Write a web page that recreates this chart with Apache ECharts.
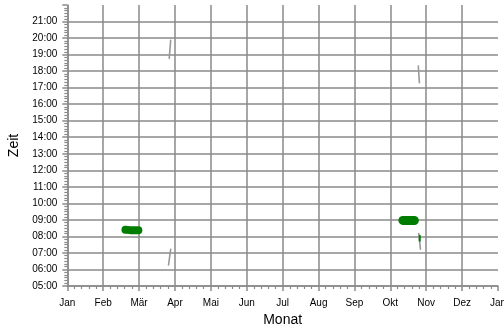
<!DOCTYPE html>
<html>
<head>
<meta charset="utf-8">
<script src="https://cdn.jsdelivr.net/npm/echarts@6/dist/echarts.min.js"></script>
<style>
  html, body { margin: 0; padding: 0; background: #fff; }
  #chart { width: 504px; height: 329px; }
</style>
</head>
<body>
<div id="chart"></div>
<script>
// Month tick labels (x = months since 1 January)
const monthLabels = ['Jan', 'Feb', 'Mär', 'Apr', 'Mai', 'Jun', 'Jul', 'Aug', 'Sep', 'Okt', 'Nov', 'Dez', 'Jan'];

// Observation windows, [month, hour of day]
const morningFeb = [[1.62, 8.40], [1.75, 8.38], [1.88, 8.37], [1.98, 8.37]];
const morningOct = [[9.35, 8.97], [9.50, 8.96], [9.67, 8.96]];
const morningOctLate = [[9.82, 8.04], [9.82, 7.74]];

// Clock changes (sunrise / sunset jump by one hour)
const sunsetMar = [[2.84, 18.77], [2.88, 19.86]];
const sunriseMar = [[2.82, 6.27], [2.88, 7.22]];
const sunsetOct = [[9.78, 18.30], [9.81, 17.30]];
const sunriseOct = [[9.79, 8.18], [9.84, 7.23]];

const gridGrey = '#8a8a8a';
const textFont = 'Liberation Sans, Arial, sans-serif';

function pad2(n) { return (n < 10 ? '0' : '') + n; }

function segment(data, color, width) {
  return {
    type: 'line',
    data: data,
    symbol: 'none',
    silent: true,
    lineStyle: { color: color, width: width, cap: 'round', join: 'round' }
  };
}

const chart = echarts.init(document.getElementById('chart'), null, { renderer: 'canvas' });
chart.setOption({
  animation: false,
  backgroundColor: '#fff',
  grid: { left: 67.3, right: 6, top: 5, bottom: 43, containLabel: false, outerBoundsMode: 'none' },
  xAxis: {
    type: 'value',
    min: 0,
    max: 12,
    interval: 1,
    name: 'Monat',
    nameLocation: 'middle',
    nameGap: 24,
    nameTextStyle: { fontFamily: textFont, fontSize: 14, color: '#000' },
    axisLine: { show: true, lineStyle: { color: gridGrey, width: 1.5 } },
    axisTick: { show: true, length: 5, lineStyle: { color: gridGrey, width: 1.5 } },
    minorTick: { show: true, splitNumber: 5, length: 3, lineStyle: { color: gridGrey, width: 1.2 } },
    axisLabel: {
      margin: 12,
      fontFamily: textFont,
      fontSize: 10,
      color: '#000',
      showMaxLabel: true,
      formatter: function (v) { return monthLabels[Math.round(v)]; }
    },
    splitLine: { show: true, showMaxLine: false, lineStyle: { color: gridGrey, width: 1.5 } }
  },
  yAxis: {
    type: 'value',
    min: 5,
    max: 22,
    interval: 1,
    name: 'Zeit',
    nameLocation: 'middle',
    nameGap: 41,
    nameRotate: 90,
    nameTextStyle: { fontFamily: textFont, fontSize: 14, color: '#000' },
    axisLine: { show: true, lineStyle: { color: gridGrey, width: 1.5 } },
    axisTick: { show: true, length: 5, lineStyle: { color: gridGrey, width: 1.5 } },
    minorTick: { show: true, splitNumber: 6, length: 3, lineStyle: { color: gridGrey, width: 1.2 } },
    axisLabel: {
      margin: 10,
      fontFamily: textFont,
      fontSize: 10,
      color: '#000',
      showMaxLabel: false,
      formatter: function (v) { return pad2(v) + ':00'; }
    },
    splitLine: { show: true, showMaxLine: false, lineStyle: { color: gridGrey, width: 1.5 } }
  },
  series: [
    segment(sunsetMar, '#999', 1.6),
    segment(sunriseMar, '#999', 1.6),
    segment(sunsetOct, '#999', 1.6),
    segment(sunriseOct, '#999', 1.6),
    segment(morningFeb, '#007d00', 8),
    segment(morningOct, '#007d00', 9),
    segment(morningOctLate, '#007d00', 2)
  ]
});
</script>
</body>
</html>
